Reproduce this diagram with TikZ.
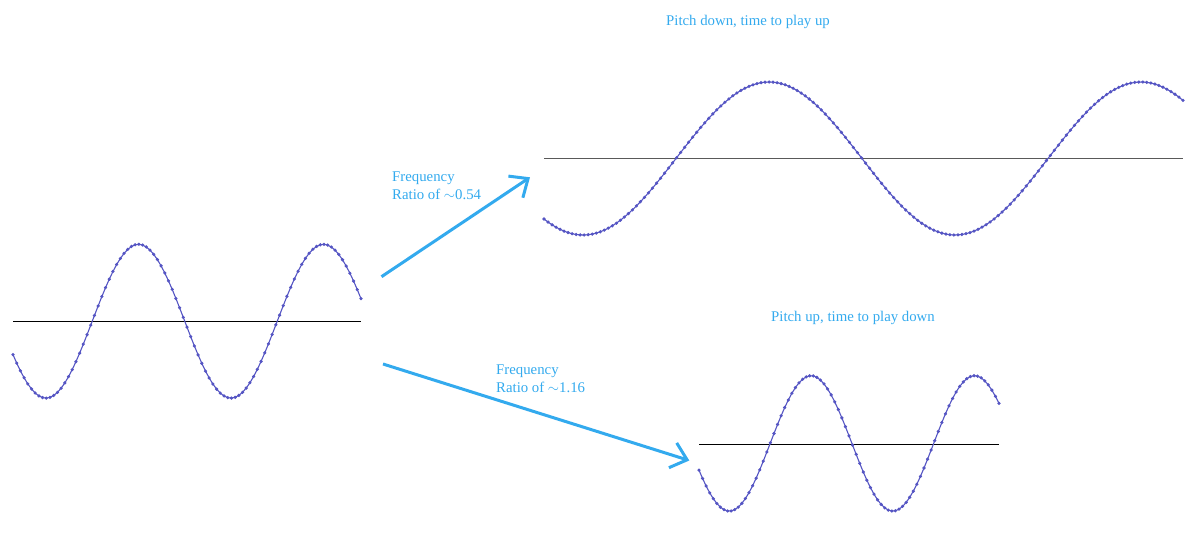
\documentclass[tikz,border=0pt]{standalone}
\usepackage{fontspec}
\setmainfont{Liberation Serif}
\usetikzlibrary{arrows.meta}
\definecolor{skyblue}{RGB}{51,170,238}
\definecolor{waveblue}{RGB}{50,50,200}
\definecolor{waveline}{RGB}{85,85,195}
\begin{document}
\begin{tikzpicture}[x=1pt, y=-1pt,
  wave/.style={color=waveline, line width=1.1pt, mark=*, mark size=1pt, mark options={fill=waveblue, draw=none}},
  axis/.style={line width=1pt},
  ratio/.style={skyblue, line width=3pt, -{Straight Barb[length=15pt, width=26pt]}},
  label/.style={skyblue, inner sep=0pt, font=\fontsize{14.8}{18.5}\selectfont}]
\useasboundingbox (0,0) rectangle (1192,555);

% input wave
\draw[axis] (13,321) -- (361,321);
\draw[wave] plot[domain=13:361, samples=95] (\x, {321.2+76.9*cos(1.94595*(\x-46))});

% pitch down
\draw[axis, black!65] (544,158.3) -- (1183,158.3);
\draw[wave] plot[domain=544:1183, samples=160] (\x, {158.5+76.5*cos(0.967742*(\x-583))});
\node[label, anchor=base] (down) at (748,25) {Pitch down, time to play up};

% pitch up
\draw[axis] (699,444.3) -- (999,444.3);
\draw[wave] plot[domain=699:999, samples=85] (\x, {443.4+67.7*cos(2.201835*(\x-729.3))});
\node[label, anchor=base] (up) at (853,321) {Pitch up, time to play down};

% arrows
\coordinate (src0) at (381.5,276.7);
\coordinate (dst0) at (530,177.3);
\coordinate (src1) at (383,364);
\coordinate (dst1) at (689.3,460.5);
\draw[ratio] (src0) -- (dst0);
\draw[ratio] (src1) -- (dst1);
\node[label, anchor=north west, align=left] (ratio0) at (392,171.5) {Frequency\\Ratio of $\sim$0.54};
\node[label, anchor=north west, align=left] (ratio1) at (496,364.5) {Frequency\\Ratio of $\sim$1.16};

\end{tikzpicture}
\end{document}
